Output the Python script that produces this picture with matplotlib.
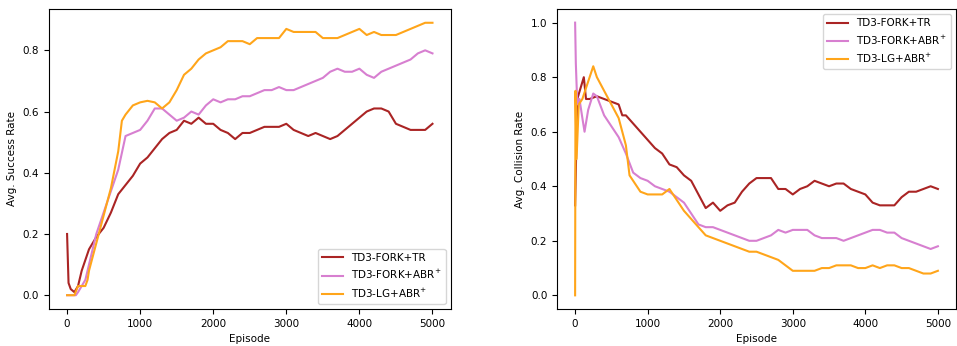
import matplotlib
matplotlib.use("Agg")
import matplotlib.pyplot as plt

# %%
# Episodes sampled every 100 (plus a few early points)
ep_main = list(range(300, 5001, 100))

# Success rate
succ_tr_ep = [0, 20, 50, 100, 150, 200] + ep_main
succ_tr = [0.20, 0.04, 0.02, 0.01, 0.03, 0.08,
           0.15, 0.19, 0.22, 0.27, 0.33, 0.36, 0.39, 0.43, 0.45, 0.48,
           0.51, 0.53, 0.54, 0.57, 0.56, 0.58, 0.56, 0.56, 0.54, 0.53,
           0.51, 0.53, 0.53, 0.54, 0.55, 0.55, 0.55, 0.56, 0.54, 0.53,
           0.52, 0.53, 0.52, 0.51, 0.52, 0.54, 0.56, 0.58, 0.60, 0.61,
           0.61, 0.60, 0.56, 0.55, 0.54, 0.54, 0.54, 0.56]

succ_abr_ep = [0, 120, 150, 200, 250] + ep_main
succ_abr = [0.0, 0.0, 0.01, 0.03, 0.05,
            0.10, 0.20, 0.27, 0.34, 0.41, 0.52, 0.53, 0.54, 0.57, 0.61,
            0.61, 0.59, 0.57, 0.58, 0.60, 0.59, 0.62, 0.64, 0.63, 0.64,
            0.64, 0.65, 0.65, 0.66, 0.67, 0.67, 0.68, 0.67, 0.67, 0.68,
            0.69, 0.70, 0.71, 0.73, 0.74, 0.73, 0.73, 0.74, 0.72, 0.71,
            0.73, 0.74, 0.75, 0.76, 0.77, 0.79, 0.80, 0.79]

succ_lg_ep = [0, 100, 150, 250, 280] + ep_main[:5] + [750] + ep_main[5:]
succ_lg = [0.0, 0.0, 0.03, 0.03, 0.05,
           0.08, 0.17, 0.26, 0.35, 0.47, 0.57, 0.59, 0.62, 0.63, 0.635, 0.63,
           0.61, 0.63, 0.67, 0.72, 0.74, 0.77, 0.79, 0.80, 0.81, 0.83,
           0.83, 0.83, 0.82, 0.84, 0.84, 0.84, 0.84, 0.87, 0.86, 0.86,
           0.86, 0.86, 0.84, 0.84, 0.84, 0.85, 0.86, 0.87, 0.85, 0.86,
           0.85, 0.85, 0.85, 0.86, 0.87, 0.88, 0.89, 0.89]

# Collision rate
coll_tr_ep = [0, 30, 120, 150, 200] + ep_main[:4] + [650] + ep_main[4:]
coll_tr = [0.33, 0.72, 0.80, 0.72, 0.72,
           0.73, 0.72, 0.71, 0.70, 0.66, 0.66, 0.63, 0.60, 0.57, 0.54,
           0.52, 0.48, 0.47, 0.44, 0.42, 0.37, 0.32, 0.34, 0.31, 0.33,
           0.34, 0.38, 0.41, 0.43, 0.43, 0.43, 0.39, 0.39, 0.37, 0.39,
           0.40, 0.42, 0.41, 0.40, 0.41, 0.41, 0.39, 0.38, 0.37, 0.34,
           0.33, 0.33, 0.33, 0.36, 0.38, 0.38, 0.39, 0.40, 0.39]

coll_abr_ep = [0, 10, 30, 60, 100, 130, 180, 250] + ep_main
coll_abr = [1.0, 0.85, 0.70, 0.72, 0.65, 0.60, 0.68, 0.74,
            0.73, 0.66, 0.62, 0.58, 0.52, 0.45, 0.43, 0.42, 0.40, 0.39,
            0.38, 0.36, 0.34, 0.30, 0.26, 0.25, 0.25, 0.24, 0.23, 0.22,
            0.21, 0.20, 0.20, 0.21, 0.22, 0.24, 0.23, 0.24, 0.24, 0.24,
            0.22, 0.21, 0.21, 0.21, 0.20, 0.21, 0.22, 0.23, 0.24, 0.24,
            0.23, 0.23, 0.21, 0.20, 0.19, 0.18, 0.17, 0.18]

coll_lg_ep = [0, 5, 20, 50, 100, 150, 200, 250] + ep_main[:5] + [750] + ep_main[5:]
coll_lg = [0.0, 0.75, 0.50, 0.70, 0.72, 0.76, 0.80, 0.84,
           0.80, 0.75, 0.70, 0.65, 0.55, 0.44, 0.42, 0.38, 0.37, 0.37, 0.37,
           0.39, 0.35, 0.31, 0.28, 0.25, 0.22, 0.21, 0.20, 0.19, 0.18,
           0.17, 0.16, 0.16, 0.15, 0.14, 0.13, 0.11, 0.09, 0.09, 0.09,
           0.09, 0.10, 0.10, 0.11, 0.11, 0.11, 0.10, 0.10, 0.11, 0.10,
           0.11, 0.11, 0.10, 0.10, 0.09, 0.08, 0.08, 0.09]

labels = ["TD3-FORK+TR", "TD3-FORK+ABR$^{+}$", "TD3-LG+ABR$^{+}$"]
colors = ["#aa2424", "#d77fd0", "#ffa51a"]

# %%
plt.rcParams['font.size'] = 7.5
fig = plt.figure(figsize=(9.57, 3.46), dpi=100)
ax1 = fig.add_axes([0.051, 0.107, 0.420, 0.867])
ax2 = fig.add_axes([0.582, 0.107, 0.417, 0.867])

ax1.plot(succ_tr_ep, succ_tr, color=colors[0], lw=1.5, label=labels[0])
ax1.plot(succ_abr_ep, succ_abr, color=colors[1], lw=1.5, label=labels[1])
ax1.plot(succ_lg_ep, succ_lg, color=colors[2], lw=1.5, label=labels[2])
ax1.set_ylim(-0.045, 0.935)
ax1.set_xlabel("Episode")
ax1.set_ylabel("Avg. Success Rate")
ax1.legend(loc="lower right")

ax2.plot(coll_tr_ep, coll_tr, color=colors[0], lw=1.5, label=labels[0])
ax2.plot(coll_abr_ep, coll_abr, color=colors[1], lw=1.5, label=labels[1])
ax2.plot(coll_lg_ep, coll_lg, color=colors[2], lw=1.5, label=labels[2])
ax2.set_ylim(-0.05, 1.05)
ax2.set_xlabel("Episode")
ax2.set_ylabel("Avg. Collision Rate")
ax2.legend(loc="upper right")

for ax in (ax1, ax2):
    ax.set_xlim(-250, 5250)
    ax.set_xticks([0, 1000, 2000, 3000, 4000, 5000])

fig.savefig("out.png", dpi=100)
